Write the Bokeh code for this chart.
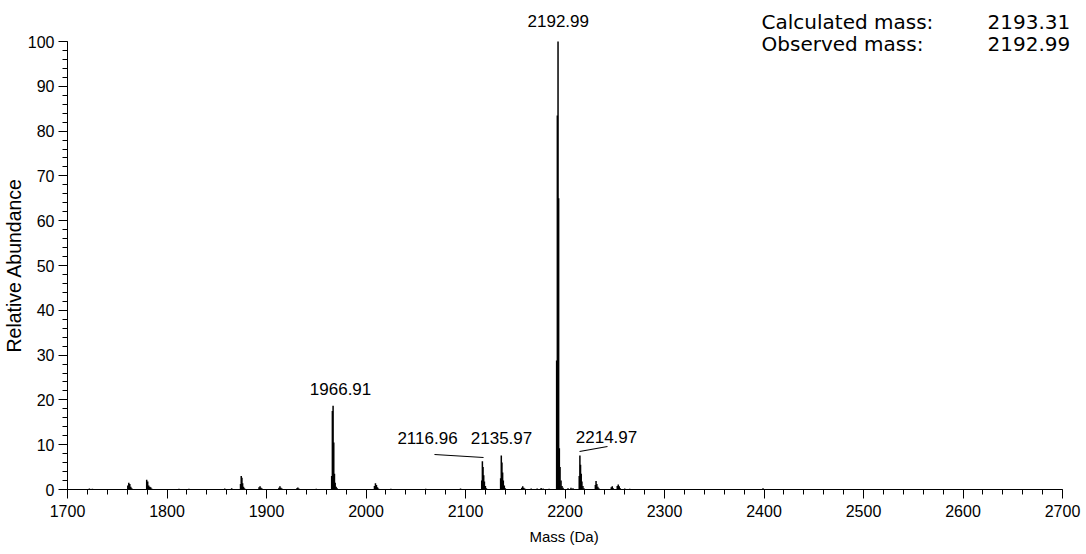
from bokeh.plotting import figure
from bokeh.models import Range1d, SingleIntervalTicker, ColumnDataSource, Label, Title
from bokeh.embed import file_html
from bokeh.resources import INLINE

# Deconvoluted spectrum as sticks: mass (Da) and relative abundance (%)
mass = [
    1722.0, 1725.0, 1745.0,
    1760.6, 1761.6, 1762.6, 1763.6, 1764.6,
    1779.6, 1780.6, 1781.6, 1782.6, 1783.6, 1784.6,
    1800.0, 1812.0, 1822.0, 1840.0, 1858.0, 1865.0,
    1873.9, 1874.6, 1875.3, 1876.0, 1876.9, 1877.9,
    1892.5, 1893.5, 1894.5, 1895.5,
    1912.5, 1913.5, 1914.5, 1915.5,
    1930.5, 1931.5, 1932.5, 1950.0,
    1965.5, 1966.2, 1966.91, 1967.6, 1968.3, 1969.0, 1970.0, 1971.0,
    2008.5, 2009.5, 2010.5, 2011.5, 2012.5,
    2025.0, 2040.0, 2060.0, 2080.0, 2095.0,
    2116.3, 2116.96, 2117.6, 2118.3, 2119.0, 2120.0, 2121.0,
    2135.3, 2135.97, 2136.6, 2137.3, 2138.0, 2139.0, 2140.0,
    2156.5, 2157.5, 2158.5, 2159.5,
    2166.0, 2172.0, 2176.0, 2178.0, 2184.0,
    2191.6, 2192.3, 2192.99, 2193.6, 2194.3, 2195.0, 2196.0, 2197.0, 2198.0,
    2203.0, 2206.0, 2208.0,
    2214.3, 2214.97, 2215.6, 2216.3, 2217.0, 2218.0, 2219.0,
    2230.5, 2231.2, 2232.0, 2233.0, 2234.0,
    2246.5, 2247.5, 2248.5,
    2252.5, 2253.5, 2254.5, 2255.5,
    2260.0, 2265.0, 2272.0, 2399.0,
]
abundance = [
    0.2, 0.15, 0.1,
    0.9, 1.5, 1.2, 0.6, 0.3,
    2.2, 1.8, 0.9, 0.6, 0.5, 0.2,
    0.1, 0.15, 0.15, 0.1, 0.2, 0.3,
    1.2, 3.0, 2.6, 1.4, 0.6, 0.3,
    0.5, 0.75, 0.4, 0.2,
    0.4, 0.7, 0.4, 0.2,
    0.3, 0.45, 0.2, 0.15,
    3.0, 17.5, 18.7, 10.5, 3.5, 1.5, 0.6, 0.3,
    0.8, 1.4, 1.0, 0.5, 0.2,
    0.15, 0.1, 0.15, 0.1, 0.2,
    2.0, 6.3, 5.0, 3.2, 1.8, 0.8, 0.3,
    2.5, 7.6, 6.0, 3.8, 2.0, 0.9, 0.3,
    0.4, 0.7, 0.4, 0.2,
    0.2, 0.25, 0.35, 0.2, 0.15,
    28.8, 83.5, 100.0, 65.0, 9.2, 5.0, 2.0, 0.8, 0.4,
    0.3, 0.4, 0.3,
    3.0, 7.6, 5.5, 3.5, 1.8, 0.8, 0.3,
    1.0, 1.9, 1.2, 0.6, 0.3,
    0.5, 0.7, 0.3,
    0.8, 1.1, 0.7, 0.3,
    0.2, 0.15, 0.1, 0.3,
]

# Annotated peaks
peak_masses = [1966.91, 2116.96, 2135.97, 2192.99, 2214.97]

calculated_mass = 2193.31
observed_mass = 2192.99

FONT = "Liberation Sans"

# The frame runs to the right edge of the page so the corner text is not clipped;
# the axes themselves are bounded to 1700-2700 and 0-100.
p = figure(
    width=1086, height=554,
    x_range=Range1d(1700, 2724.1), y_range=Range1d(0, 108.04),
    output_backend="svg", toolbar_location=None,
    min_border_left=67, min_border_right=0,
    min_border_top=5, min_border_bottom=65,
)
p.outline_line_color = None
p.background_fill_color = "white"
p.xgrid.visible = False
p.ygrid.visible = False

# Axes
p.xaxis.ticker = SingleIntervalTicker(interval=100, num_minor_ticks=5)
p.yaxis.ticker = SingleIntervalTicker(interval=10, num_minor_ticks=5)
p.xaxis.bounds = (1700, 2700)
p.yaxis.bounds = (0, 100)
for ax in (p.xaxis[0], p.yaxis[0]):
    ax.axis_line_color = "black"
    ax.axis_line_width = 1
    ax.major_tick_line_color = "black"
    ax.minor_tick_line_color = "black"
    ax.major_tick_in = 0
    ax.major_tick_out = 9
    ax.minor_tick_in = 0
    ax.minor_tick_out = 5
    ax.major_label_text_font = FONT
    ax.major_label_text_font_size = "16px"
    ax.major_label_text_color = "black"
p.xaxis.major_label_standoff = 6
p.yaxis.major_label_standoff = 4

# Axis titles, centred on the bounded axes rather than on the whole frame
p.add_layout(Title(
    text="Mass (Da)", align="left", offset=462, standoff=12,
    text_font=FONT, text_font_size="15px", text_font_style="normal", text_color="black",
), "below")
p.add_layout(Title(
    text="Relative Abundance", align="left", offset=137, standoff=0,
    text_font=FONT, text_font_size="19.5px", text_font_style="normal", text_color="black",
), "left")

# Stick spectrum
src = ColumnDataSource(dict(x=mass, y=abundance, y0=[0] * len(mass)))
p.segment(x0="x", y0="y0", x1="x", y1="y", source=src, line_color="black", line_width=1.5)

# Peak labels (anchor positions in data units) with leader lines where offset
label_x = [1974.4, 2061.8, 2136.2, 2193.2, 2241.7]
label_y = [22.54, 11.6, 11.6, 104.69, 11.83]
for m, lx, ly in zip(peak_masses, label_x, label_y):
    p.add_layout(Label(
        x=lx, y=ly, text="%.2f" % m,
        text_font=FONT, text_font_size="17px", text_color="black",
        text_align="center", text_baseline="middle",
    ))
p.segment(x0=[2068.8, 2214.6], y0=[7.81, 8.48], x1=[2118.1, 2242.7], y1=[7.14, 9.6],
          line_color="black", line_width=1.2)

# Mass summary in the upper right corner
summary_rows = [("Calculated mass:", calculated_mass), ("Observed mass:", observed_mass)]
summary_y = [104.45, 99.55]
for (name, val), sy in zip(summary_rows, summary_y):
    p.add_layout(Label(
        x=2397.5, y=sy, text=name,
        text_font="DejaVu Sans", text_font_size="20px", text_color="black",
        text_align="left", text_baseline="middle",
    ))
    p.add_layout(Label(
        x=2624.6, y=sy, text="%.2f" % val,
        text_font="DejaVu Sans", text_font_size="20px", text_color="black",
        text_align="left", text_baseline="middle",
    ))

open("out.html", "w").write(file_html(p, INLINE))
